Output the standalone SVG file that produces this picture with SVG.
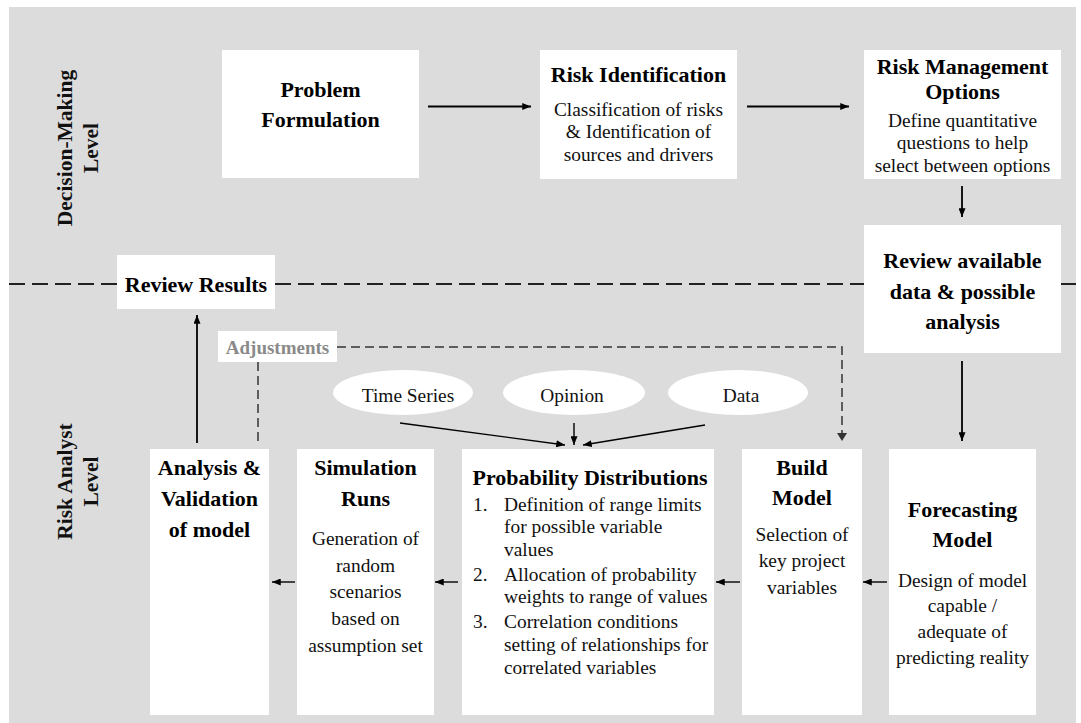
<svg xmlns="http://www.w3.org/2000/svg" width="1081" height="723" viewBox="0 0 1081 723">
<style>
.bg{fill:#dcdcdc}
.box{fill:#ffffff}
.h{font-family:"Liberation Serif","Times New Roman",serif;font-weight:bold;font-size:22px;fill:#000;text-anchor:middle}
.b{font-family:"Liberation Serif","Times New Roman",serif;font-size:19.4px;fill:#111;text-anchor:middle}
.bl{font-family:"Liberation Serif","Times New Roman",serif;font-size:19.4px;fill:#111}
.adj{font-family:"Liberation Serif","Times New Roman",serif;font-weight:bold;font-size:19px;fill:#8a8a8a;text-anchor:middle}
.lvl{font-family:"Liberation Serif","Times New Roman",serif;font-weight:bold;font-size:21.5px;fill:#111;text-anchor:middle}
.arr{stroke:#000;stroke-width:1.8;fill:none;marker-end:url(#ah)}
.arrs{stroke:#000;stroke-width:1.4;fill:none;marker-end:url(#ah)}
.dash{stroke:#222;stroke-width:2;fill:none;stroke-dasharray:16 7}
.adjl{stroke:#333;stroke-width:1.5;fill:none;stroke-dasharray:9 5}
</style>
<defs>
<marker id="ah" viewBox="0 0 10 8" refX="10" refY="4" markerWidth="9" markerHeight="7" markerUnits="userSpaceOnUse" orient="auto">
<path d="M0,0 L10,4 L0,8 z" fill="#000"/>
</marker>
</defs>
<rect class="bg" x="9" y="7" width="1067" height="716"/>

<g id="level-labels">
<text class="lvl" transform="translate(71.5,148) rotate(-90)">Decision-Making<tspan x="0" dy="26.5">Level</tspan></text>
<text class="lvl" transform="translate(71.5,481.5) rotate(-90)">Risk Analyst<tspan x="0" dy="26.5">Level</tspan></text>
</g>

<g id="connectors">
<line class="dash" x1="9" y1="284" x2="117" y2="284"/>
<line class="dash" x1="275" y1="284" x2="864" y2="284"/>
<line class="dash" x1="1061" y1="284" x2="1076" y2="284"/>
<line class="arr" x1="428" y1="106.5" x2="531" y2="106.5"/>
<line class="arr" x1="747" y1="106.5" x2="849" y2="106.5"/>
<line class="arr" x1="962" y1="186" x2="962" y2="217"/>
<line class="arr" x1="962" y1="361" x2="962" y2="441"/>
<line class="arr" x1="197" y1="443" x2="197" y2="315"/>
<polyline class="adjl" points="337,347 842,347 842,433"/>
<path d="M837,433 L842,441 L847,433 z" fill="#333"/>
<line class="adjl" x1="258" y1="362" x2="258" y2="443"/>
<line class="arrs" x1="400" y1="423" x2="565" y2="445"/>
<line class="arrs" x1="574" y1="423" x2="574" y2="445"/>
<line class="arrs" x1="705" y1="425" x2="583" y2="445"/>
<line class="arrs" x1="295" y1="582" x2="272" y2="582"/>
<line class="arrs" x1="458" y1="582" x2="435" y2="582"/>
<line class="arrs" x1="740" y1="582" x2="716" y2="582"/>
<line class="arrs" x1="887" y1="582" x2="863" y2="582"/>
</g>

<g id="problem-formulation">
<rect class="box" x="222" y="50" width="197" height="128"/>
<text class="h" x="320.5" y="97">Problem</text>
<text class="h" x="320.5" y="127">Formulation</text>
</g>

<g id="risk-identification">
<rect class="box" x="540" y="50" width="197" height="129"/>
<text class="h" x="638.5" y="81.5">Risk Identification</text>
<text class="b" x="638.5" y="116">Classification of risks</text>
<text class="b" x="638.5" y="138.3">&amp; Identification of</text>
<text class="b" x="638.5" y="160.5">sources and drivers</text>
</g>

<g id="risk-management-options">
<rect class="box" x="864" y="50" width="197" height="129"/>
<text class="h" x="962.5" y="73.5">Risk Management</text>
<text class="h" x="962.5" y="98.5">Options</text>
<text class="b" x="962.5" y="126.7">Define quantitative</text>
<text class="b" x="962.5" y="149.3">questions to help</text>
<text class="b" x="962.5" y="171.7">select between options</text>
</g>

<g id="review-available-data">
<rect class="box" x="864" y="225" width="197" height="128"/>
<text class="h" x="962.5" y="268">Review available</text>
<text class="h" x="962.5" y="298.5">data &amp; possible</text>
<text class="h" x="962.5" y="329">analysis</text>
</g>

<g id="review-results">
<rect class="box" x="117" y="255" width="158" height="54"/>
<text class="h" x="196" y="292">Review Results</text>
</g>

<g id="adjustments">
<rect class="box" x="218" y="331" width="119" height="31"/>
<text class="adj" x="277.5" y="353.5">Adjustments</text>
</g>

<g id="time-series">
<ellipse class="box" cx="403" cy="392.5" rx="70" ry="22.5"/>
<text class="b" x="408" y="402">Time Series</text>
</g>
<g id="opinion">
<ellipse class="box" cx="574" cy="392.5" rx="71" ry="22.5"/>
<text class="b" x="572" y="402">Opinion</text>
</g>
<g id="data">
<ellipse class="box" cx="738" cy="392.5" rx="70" ry="22.5"/>
<text class="b" x="741" y="402">Data</text>
</g>

<g id="analysis-validation">
<rect class="box" x="150" y="449" width="119" height="266"/>
<text class="h" x="209.5" y="475">Analysis &amp;</text>
<text class="h" x="209.5" y="506">Validation</text>
<text class="h" x="209.5" y="536.5">of model</text>
</g>

<g id="simulation-runs">
<rect class="box" x="297" y="449" width="137" height="266"/>
<text class="h" x="365.5" y="475">Simulation</text>
<text class="h" x="365.5" y="506">Runs</text>
<text class="b" x="365.5" y="545">Generation of</text>
<text class="b" x="365.5" y="571.7">random</text>
<text class="b" x="365.5" y="598.3">scenarios</text>
<text class="b" x="365.5" y="625">based on</text>
<text class="b" x="365.5" y="651.7">assumption set</text>
</g>

<g id="probability-distributions">
<rect class="box" x="462" y="449" width="252" height="266"/>
<text class="h" x="590" y="485">Probability Distributions</text>
<text class="bl" x="473" y="510.7">1.</text>
<text class="bl" x="504" y="510.7">Definition of range limits</text>
<text class="bl" x="504" y="533.3">for possible variable</text>
<text class="bl" x="504" y="555.5">values</text>
<text class="bl" x="473" y="580.5">2.</text>
<text class="bl" x="504" y="580.5">Allocation of probability</text>
<text class="bl" x="504" y="603.3">weights to range of values</text>
<text class="bl" x="473" y="628.3">3.</text>
<text class="bl" x="504" y="628.3">Correlation conditions</text>
<text class="bl" x="504" y="651">setting of relationships for</text>
<text class="bl" x="504" y="673.5">correlated variables</text>
</g>

<g id="build-model">
<rect class="box" x="742" y="449" width="120" height="266"/>
<text class="h" x="802" y="475">Build</text>
<text class="h" x="802" y="505">Model</text>
<text class="b" x="802" y="540.5">Selection of</text>
<text class="b" x="802" y="567">key project</text>
<text class="b" x="802" y="593.5">variables</text>
</g>

<g id="forecasting-model">
<rect class="box" x="889" y="449" width="147" height="266"/>
<text class="h" x="962.5" y="516.5">Forecasting</text>
<text class="h" x="962.5" y="546.5">Model</text>
<text class="b" x="962.5" y="586.5">Design of model</text>
<text class="b" x="962.5" y="611.5">capable /</text>
<text class="b" x="962.5" y="637.5">adequate of</text>
<text class="b" x="962.5" y="664">predicting reality</text>
</g>
</svg>
